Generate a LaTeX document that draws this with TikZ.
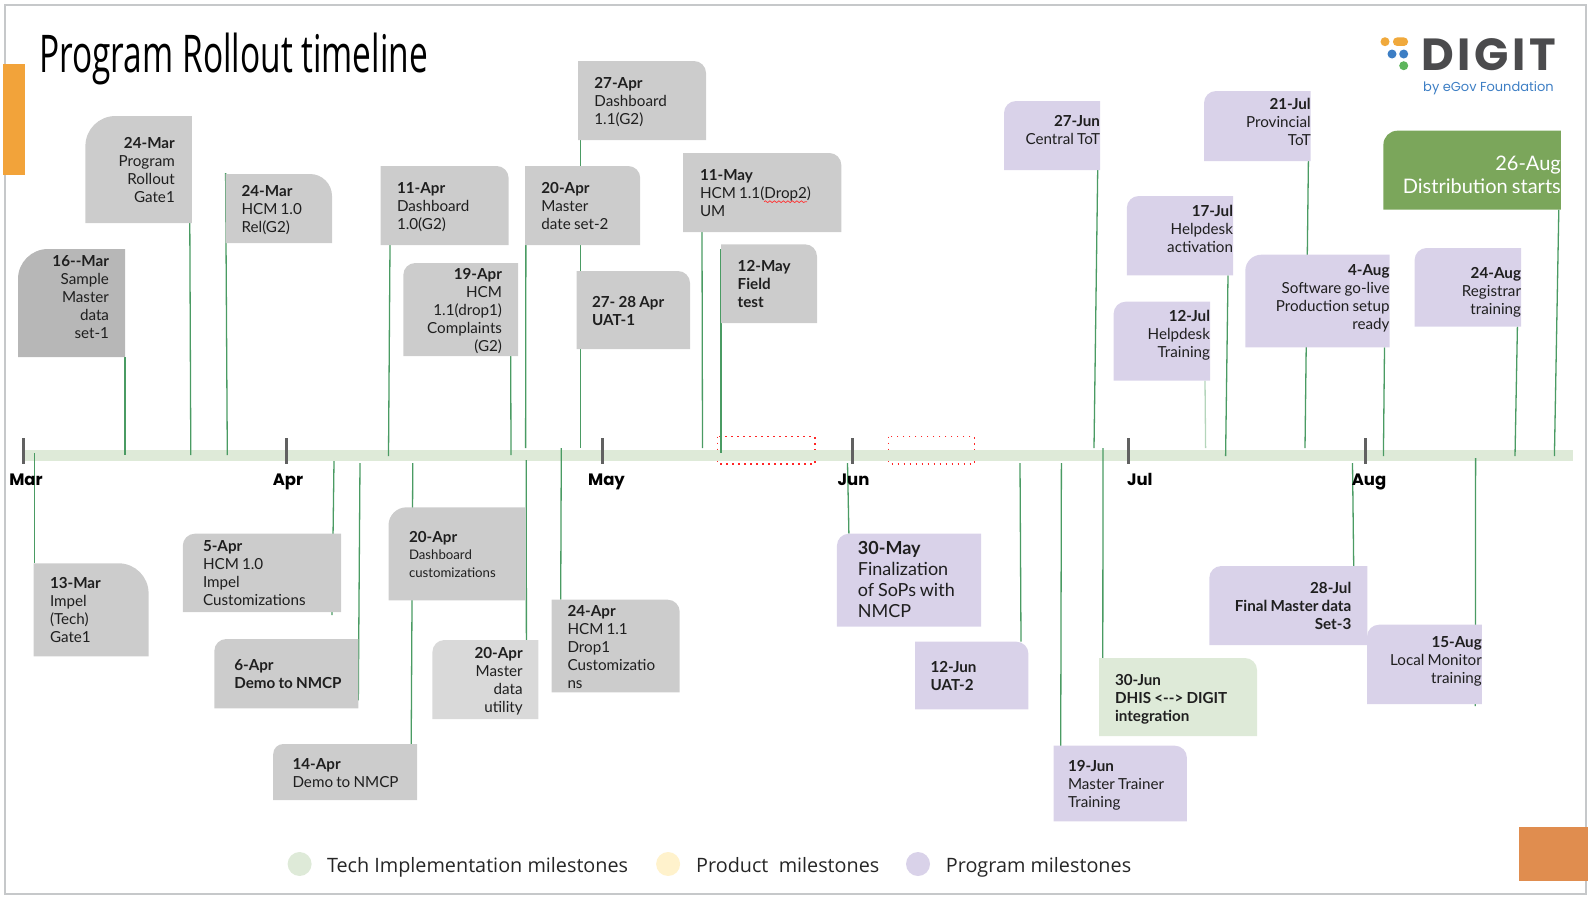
\documentclass[tikz,border=0pt]{standalone}
\usepackage{xcolor}
\usepackage{fontspec}
\setmainfont{Lato}
\newfontfamily\titlefont[FakeStretch=0.644]{Open Sans}
\newfontfamily\legendfont{Open Sans}
\newfontfamily\logofont{Poppins}
\newfontfamily\digitfont[LetterSpace=8]{Poppins}
\usepackage{tikz}
\usetikzlibrary{decorations.pathmorphing}
\definecolor{boxgrey}{HTML}{CCCCCC}
\definecolor{boxdark}{HTML}{B7B7B7}
\definecolor{boxpale}{HTML}{D9D9D9}
\definecolor{boxlilac}{HTML}{D9D2E9}
\definecolor{boxmint}{HTML}{DEEAD8}
\definecolor{boxcream}{HTML}{FFF2CC}
\definecolor{boxgreen}{HTML}{7BA65B}
\definecolor{linkgreen}{HTML}{4A9B63}
\definecolor{framegrey}{HTML}{C6C8CA}
\definecolor{barorange}{HTML}{F2A33A}
\definecolor{cornerorange}{HTML}{E08D4F}
\definecolor{logoamber}{HTML}{F0A93C}
\definecolor{logoblue}{HTML}{3D7EC4}
\definecolor{logogreen}{HTML}{5DB55C}
\definecolor{logogrey}{HTML}{4B4B4D}
\pgfdeclarelayer{lines}
\pgfdeclarelayer{boxes}
\pgfsetlayers{lines,boxes,main}
\newcommand{\boxfont}{\fontsize{15.2}{18}\selectfont\color{black!88}}
\newcommand{\bigboxfont}{\fontsize{18}{21}\selectfont\color{black!88}}
\newcommand{\tightwords}{\spaceskip=0.21em\relax}
\tikzset{
  lefttext/.style n args={3}{anchor=north west, align=left, inner xsep=#3, inner ysep=0pt, outer sep=0pt, text width=(#1-2*#3)*1pt, minimum height=#2, font=\boxfont, execute at begin node={\tightwords\rule{0pt}{16pt}}, execute at end node={\rule[-4pt]{0pt}{4pt}}},
  righttext/.style n args={3}{anchor=north west, align=right, inner xsep=#3, inner ysep=0pt, outer sep=0pt, text width=(#1-2*#3)*1pt, minimum height=#2, font=\boxfont, execute at begin node={\tightwords\rule{0pt}{16pt}}, execute at end node={\rule[-4pt]{0pt}{4pt}}},
  liftup/.style={execute at end node={\rule[-#1pt]{0pt}{#1pt}}},
  dropdown/.style={execute at begin node={\rule{0pt}{#1pt}}}
}
\tikzstyle{link} = [linkgreen, line width=1.3pt]
\tikzstyle{tick} = [rectangle, fill=black!62, minimum width=3pt, minimum height=26pt, inner sep=0pt]
\tikzstyle{month} = [anchor=base, font=\logofont\bfseries\fontsize{16.5}{18}\selectfont, inner sep=0pt]
\tikzstyle{legend} = [anchor=base west, inner sep=0pt, font=\legendfont\fontsize{19.8}{24}\selectfont, black!85]
\tikzstyle{dot} = [circle, minimum size=24pt, inner sep=0pt]
\tikzstyle{logodot} = [circle, minimum size=9pt, inner sep=0pt]
\tikzstyle{redmark} = [red!85, line width=1.1pt, dash pattern=on 1.6pt off 4.4pt]
\begin{document}
\begin{tikzpicture}[x=1pt,y=-1pt]
\useasboundingbox (0,0) rectangle (1592,898);
\draw[framegrey, line width=1.6pt] (5,5) rectangle (1586,894);
\fill[barorange] (3.4,64) rectangle (25,175);
\fill[cornerorange] (1519.4,827.3) rectangle (1588,881.3);
\node (title) [anchor=base west, inner sep=0pt, font=\titlefont\fontsize{52}{60}\selectfont] at (39,72) {Program Rollout timeline};

% logo
\node (dot1) [logodot, fill=logoamber] at (1385,41.7) {};
\node (dot2) [rectangle, rounded corners=4pt, minimum width=15pt, minimum height=8.5pt, inner sep=0pt, fill=logoamber] at (1400.5,41.7) {};
\node (dot3) [logodot, fill=logoblue] at (1392,54) {};
\node (dot4) [logodot, fill=logoblue] at (1403.7,54) {};
\node (dot5) [logodot, fill=logogreen] at (1403.7,65.7) {};
\node (digit) [anchor=base west, inner sep=0pt, font=\digitfont\bfseries\fontsize{45}{48}\selectfont, logogrey] at (1421,70) {DIGIT};
\node (egov) [anchor=base west, inner sep=0pt, font=\logofont\fontsize{13}{15}\selectfont, logoblue] at (1423,91.5) {by eGov Foundation};

% upper milestones
\node (m16mar) [righttext={107}{108}{16}, liftup=18] at (18,249) {\textbf{16{-}{-}Mar}\\Sample\\Master\\data\\set-1};
\node (m24mar) [righttext={106.4}{107}{17}] at (85.4,116) {\textbf{24-Mar}\\Program\\Rollout\\Gate1};
\node (m24rel) [lefttext={106.4}{69}{16}] at (225.6,174) {\textbf{24-Mar}\\HCM 1.0\\Rel(G2)};
\node (m11apr) [lefttext={128}{79}{16.4}] at (380.6,166) {\textbf{11-Apr}\\Dashboard\\1.0(G2)};
\node (m19apr) [righttext={114.7}{93}{16}] at (403.3,263) {\textbf{19-Apr}\\HCM\\1.1(drop1)\\Complaints\\(G2)};
\node (m27apr) [lefttext={128}{79}{16.4}] at (578,61) {\textbf{27-Apr}\\Dashboard\\1.1(G2)};
\node (m20set) [lefttext={115}{79}{16.2}] at (525.2,166) {\textbf{20-Apr}\\Master\\date set-2};
\node (m11may) [lefttext={158.3}{79}{17}] at (683,153) {\textbf{11-May}\\HCM 1.1(Drop2)\\UM};
\node (m12may) [lefttext={96}{78.7}{16.7}] at (721,244.3) {\textbf{12-May}\\\textbf{Field}\\\textbf{test}};
\node (m2728) [lefttext={113.5}{78}{15.5}] at (576.5,271) {\textbf{27- 28 Apr}\\\textbf{UAT-1}};
\node (m27jun) [righttext={96}{69}{0}, liftup=16] at (1004,101) {\textbf{27-Jun}\\Central ToT};
\node (m21jul) [righttext={106.7}{70}{0}, liftup=14] at (1204,91) {\textbf{21-Jul}\\Provincial\\ToT};
\node (m26aug) [righttext={177.4}{79}{0}, dropdown=28, font=\fontsize{20}{23}\selectfont\color{white}] at (1383.4,130.7) {26-Aug\\Distribution starts};
\node (m17jul) [righttext={106.2}{79.3}{0}, liftup=19] at (1126.8,196) {\textbf{17-Jul}\\Helpdesk\\activation};
\node (m12jul) [righttext={96.4}{79}{0}, liftup=20] at (1113.6,301.7) {\textbf{12-Jul}\\Helpdesk\\Training};
\node (m4aug) [righttext={144.2}{92.6}{0}, liftup=14] at (1245.3,254.7) {\textbf{4-Aug}\\Software go-live\\Production setup\\ready};
\node (m24aug) [righttext={106.4}{78.7}{0}, dropdown=23] at (1414.6,248) {\textbf{24-Aug}\\Registrar\\training};

% lower milestones
\node (m13mar) [lefttext={115}{93}{16.4}] at (33.6,563.3) {\textbf{13-Mar}\\Impel\\(Tech)\\Gate1};
\node (m5apr) [lefttext={158.2}{78.3}{20.2}] at (182.8,533.7) {\textbf{5-Apr}\\HCM 1.0\\Impel\\Customizations};
\node (m6apr) [lefttext={144}{69.3}{20}] at (214.3,639) {\textbf{6-Apr}\\\mbox{\textbf{Demo to NMCP}}};
\node (m14apr) [lefttext={143.8}{56}{19.3}] at (273.2,744) {\textbf{14-Apr}\\\mbox{Demo to NMCP}};
\node (m20dash) [lefttext={137.2}{93}{20.5}] at (388.5,507.3) {\textbf{20-Apr}\\{\fontsize{13.2}{17}\selectfont Dashboard\\customizations}};
\node (m20util) [righttext={106}{79}{15.7}] at (432.4,640) {\textbf{20-Apr}\\Master\\data\\utility};
\node (m24apr) [lefttext={128}{92.6}{15.8}] at (551.7,599.7) {\textbf{24-Apr}\\HCM 1.1\\Drop1\\Customizatio\\ns};
\node (m30may) [lefttext={144.3}{93}{21}, font=\bigboxfont] at (836.9,533.7) {\textbf{30-May}\\Finalization\\of SoPs with\\NMCP};
\node (m12jun) [lefttext={113.4}{67.6}{15.5}] at (915,641.7) {\textbf{12-Jun}\\\textbf{UAT-2}};
\node (m19jun) [lefttext={133.4}{75.6}{14.5}] at (1053.5,745.7) {\textbf{19-Jun}\\Master Trainer\\Training};
\node (m30jun) [lefttext={158}{78}{16}] at (1099,658) {\textbf{30-Jun}\\\textbf{DHIS <{-}{-}> DIGIT}\\\textbf{integration}};
\node (m28jul) [righttext={158}{79}{16}] at (1209.3,566) {\textbf{28-Jul}\\\textbf{Final Master data}\\\textbf{Set-3}};
\node (m15aug) [righttext={114.8}{79.3}{0}, liftup=14] at (1367,624.7) {\textbf{15-Aug}\\Local Monitor\\training};

% box fills, one rounded corner each
\begin{pgfonlayer}{boxes}
\foreach \n/\c/\r in {m16mar/boxdark/30, m24mar/boxgrey/30, m19apr/boxgrey/12, m27jun/boxlilac/12, m21jul/boxlilac/12, m26aug/boxgreen/14, m17jul/boxlilac/12, m12jul/boxlilac/12, m4aug/boxlilac/16, m24aug/boxlilac/12, m5apr/boxgrey/12, m6apr/boxgrey/12, m14apr/boxgrey/10, m20dash/boxgrey/18, m20util/boxpale/12, m30may/boxlilac/12, m28jul/boxlilac/12, m15aug/boxlilac/12}
  \fill[\c] (\n.south west) [rounded corners=\r pt] -- (\n.north west) [sharp corners] -- (\n.north east) -- (\n.south east) -- cycle;
\foreach \n/\c/\r in {m24rel/boxgrey/22, m11apr/boxgrey/12, m27apr/boxgrey/12, m20set/boxgrey/12, m11may/boxgrey/12, m12may/boxgrey/12, m2728/boxgrey/12, m13mar/boxgrey/30, m24apr/boxgrey/12, m12jun/boxlilac/12, m19jun/boxlilac/12, m30jun/boxmint/12}
  \fill[\c] (\n.south east) [rounded corners=\r pt] -- (\n.north east) [sharp corners] -- (\n.north west) -- (\n.south west) -- cycle;
\end{pgfonlayer}

% axis
\begin{pgfonlayer}{lines}
\draw[redmark] (717.7,436.7) rectangle (815,464);
\draw[redmark] (888.9,436.7) rectangle (974.3,464);
\node (axis) [rectangle, fill=boxmint, anchor=north west, minimum width=1549pt, minimum height=11pt, inner sep=0pt] at (24,450) {};
\foreach \n/\x/\y in {a/125/455, b/190.8/455, c/227.3/455, d/388.5/456, e/511/455, f/525.6/448, g/580.3/448, h/702.5/448, i/721/453, j/1094/448, k/1205.6/448, l/1225.6/456, m/1305/448, n/1383.4/456, o/1515/456, p/1554.4/456, q/34.6/452.7, r/334/461, s/360/463, t/412.8/463, u/526.2/460, v/561.3/448, w/847.5/463, x/1020/463, y/1061.4/463, z/1103/448, aa/1352.5/463, ab/1475.6/458}
  \coordinate (end\n) at (\x,\y);
\draw[link] (m16mar.south east) -- (enda);
\draw[link] ([xshift=-2]m24mar.south east) -- (endb);
\draw[link] ([yshift=1]m24rel.north west) -- (endc);
\draw[link] ([xshift=9.4]m11apr.south west) -- (endd);
\draw[link] ([xshift=-7.3]m19apr.south east) -- (ende);
\draw[link] ([xshift=0.8]m20set.north west) -- (endf);
\draw[link] ([xshift=2.3]m27apr.south west) -- (endg);
\draw[link] ([xshift=19]m11may.south west) -- (endh);
\draw[link] ([yshift=-5]m12may.north west) -- (endi);
\draw[link] ([xshift=-2.3]m27jun.south east) -- (endj);
\draw[link, boxmint!50!linkgreen!70!white] ([xshift=-5]m12jul.south east) -- (endk);
\draw[link] ([xshift=-5]m17jul.south east) -- (endl);
\draw[link] ([xshift=-2.3]m21jul.south east) -- (endm);
\draw[link] ([xshift=-5]m4aug.south east) -- (endn);
\draw[link] ([xshift=-3.6]m24aug.south east) -- (endo);
\draw[link] ([xshift=-2]m26aug.south east) -- (endp);
\draw[link] ([xshift=1]m13mar.north west) -- (endq);
\draw[link] ([xshift=-9,yshift=-3]m5apr.south east) -- (endr);
\draw[link] ([yshift=8]m6apr.south east) -- (ends);
\draw[link] ([xshift=-5.8]m14apr.north east) -- (endt);
\draw[link] ([xshift=94]m20util.north west) -- (endu);
\draw[link] ([xshift=9]m24apr.north west) -- (endv);
\draw[link] ([xshift=12]m30may.north west) -- (endw);
\draw[link] ([xshift=-7.4]m12jun.north east) -- (endx);
\draw[link] ([xshift=7.2,yshift=-4]m19jun.north west) -- (endy);
\draw[link] ([xshift=3.8]m30jun.north west) -- (endz);
\draw[link] ([xshift=-13.6]m28jul.north east) -- (endaa);
\draw[link] ([xshift=-6.5,yshift=-2]m15aug.south east) -- (endab);
\end{pgfonlayer}

% months
\node (tmar) [tick] at (23,451) {};
\node (tapr) [tick] at (286,451) {};
\node (tmay) [tick] at (602,451) {};
\node (tjun) [tick] at (852,451) {};
\node (tjul) [tick] at (1128,451) {};
\node (taug) [tick] at (1365,451) {};
\node (lmar) [month] at (26,485) {Mar};
\node (lapr) [month] at (288,485) {Apr};
\node (lmay) [month] at (606.5,485) {May};
\node (ljun) [month] at (853.5,485) {Jun};
\node (ljul) [month] at (1139.8,485) {Jul};
\node (laug) [month] at (1369,485) {Aug};

\draw[red!80, line width=0.7pt, decorate, decoration={snake, amplitude=0.9pt, segment length=4.5pt}] (764,201.7) -- (807,201.7);

% legend
\node (dtech) [dot, fill=boxmint] at (299.6,864) {};
\node (ltech) [legend] at (326.8,872.5) {Tech Implementation milestones};
\node (dprod) [dot, fill=boxcream] at (668.1,864) {};
\node (lprod) [legend] at (696,872.5) {Product\ \ milestones};
\node (dprog) [dot, fill=boxlilac] at (918,864) {};
\node (lprog) [legend] at (945.7,872.5) {Program milestones};
\end{tikzpicture}
\end{document}
